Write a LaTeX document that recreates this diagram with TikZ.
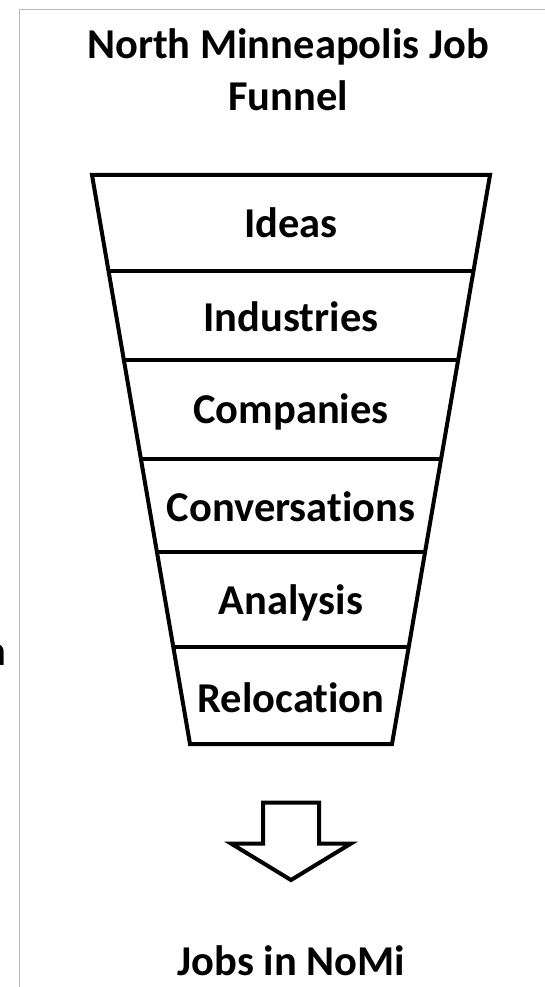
\documentclass[tikz,border=0pt]{standalone}
\usepackage{fontspec}
\setmainfont{Carlito}[Ligatures={NoCommon,NoRare,NoContextual}, RawFeature={-liga;-clig;-dlig;-calt}]
\usetikzlibrary{calc}
\tikzset{
  lbl/.style={font=\bfseries\fontsize{42.5}{52}\selectfont, inner sep=0pt},
  funnelline/.style={line width=4pt, line join=miter},
  frameline/.style={draw=black!27, line width=1.6pt}
}
\begin{document}
\begin{tikzpicture}[x=1pt,y=-1pt]
\useasboundingbox (0,0) rectangle (545,987);
% frame
\coordinate (fb) at (19.5,987);
\coordinate (fc) at (19.5,9.5);
\coordinate (fr) at (545,9.5);
\draw[frameline] (fb) -- (fc) -- (fr);
% cut-off text at left
\node[lbl, anchor=base east] (cut) at (6.5,665) {n};
% title
\node[lbl, align=center, anchor=north] (title) at (288,28) {North Minneapolis Job\\Funnel};
% funnel
\coordinate (tl) at (92,175);
\coordinate (tr) at (490,175);
\coordinate (bl) at (190,744);
\coordinate (br) at (392,744);
\draw[funnelline] (tl) -- (tr) -- (br) -- (bl) -- cycle;
\foreach \yy/\nm in {271/a,360/b,459/c,552/d,647/e}{
  \coordinate (l\nm) at ($(tl)!{(\yy-175)/569}!(bl)$);
  \coordinate (r\nm) at ($(tr)!{(\yy-175)/569}!(br)$);
  \draw[funnelline] (l\nm) -- (r\nm);
}
\node[lbl] (ideas) at (291,223) {Ideas};
\node[lbl] (industries) at (291,317) {Industries};
\node[lbl] (companies) at (291,412) {Companies};
\node[lbl] (conversations) at (291,507) {Conversations};
\node[lbl] (analysis) at (291,603) {Analysis};
\node[lbl] (relocation) at (291,698) {Relocation};
% arrow
\coordinate (a1) at (263,802.5);
\coordinate (a2) at (319,802.5);
\coordinate (a3) at (319,843.5);
\coordinate (a4) at (351,843.5);
\coordinate (a5) at (291,880);
\coordinate (a6) at (231,843.5);
\coordinate (a7) at (263,843.5);
\draw[funnelline] (a1) -- (a2) -- (a3) -- (a4) -- (a5) -- (a6) -- (a7) -- cycle;
% result
\node[lbl, anchor=base] (jobs) at (291.5,975) {Jobs in NoMi};
\end{tikzpicture}
\end{document}
